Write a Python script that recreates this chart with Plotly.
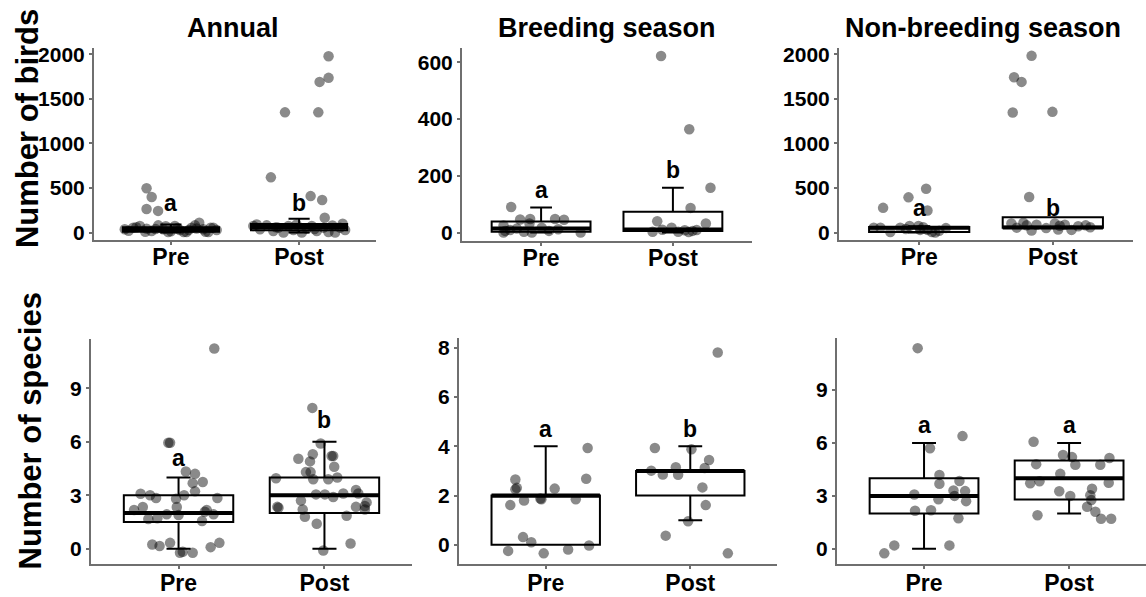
import plotly.graph_objects as go

# ---------------- DATA ----------------
categories = ["Pre", "Post"]
panel_titles = ["Annual", "Breeding season", "Non-breeding season"]
row_titles = ["Number of birds", "Number of species"]

# --- Number of birds: Annual ---
birds_annual_pre_jit = [-0.19, -0.15, -0.19, -0.10, -0.36, -0.294, -0.242, -0.19, -0.151, -0.099, -0.06,
                        -0.021, 0.031, 0.07, 0.122, 0.161, 0.188, 0.221, 0.253, 0.292, 0.331, 0.357,
                        -0.33, -0.27, -0.2, -0.12, -0.04, 0.0, 0.05, 0.1, 0.14, 0.2, 0.27, 0.31]
birds_annual_pre = [497, 398, 265, 243, 37, 55, 74, 44, 18, 81, 37,
                    7, 74, 29, 7, 55, 81, 110, 37, 7, 55, 29,
                    20, 60, 10, 40, 70, 15, 50, 5, 30, 45, 10, 55]
birds_annual_post_jit = [0.23, 0.23, 0.16, -0.11, 0.15, -0.22, 0.09, 0.18, 0.20,
                         -0.357, -0.305, -0.253, -0.201, -0.161, -0.122, -0.083, -0.044, 0.021,
                         0.06, 0.099, 0.138, 0.19, 0.229, 0.281, 0.32, 0.359,
                         -0.33, -0.18, -0.02, 0.12, 0.26, 0.34]
birds_annual_post = [1978, 1735, 1690, 1348, 1348, 619, 409, 365, 166,
                     74, 37, 81, 18, 55, 0, 74, 29, 0,
                     44, 74, 18, 55, 7, 0, 55, 29,
                     90, 60, 90, 40, 80, 100]
birds_annual_q1 = [10, 25]
birds_annual_med = [40, 62]
birds_annual_q3 = [60, 95]
birds_annual_lo = [0, 0]
birds_annual_hi = [90, 155]
birds_annual_letters = ["a", "b"]
birds_annual_letter_y = [331, 331]

# --- Number of birds: Breeding season ---
birds_breed_pre_jit = [-0.227, -0.159, -0.083, -0.088, 0.106, 0.174, -0.285, -0.273, -0.235,
                       -0.184, -0.07, 0.06, 0.13, 0.3, -0.285, 0.005, -0.13]
birds_breed_pre = [90, 46, 48, 32, 48, 45, 25, 6, 9,
                   14, 0, 6, 12, 0, 0, 17, 3]
birds_breed_post_jit = [-0.09, 0.124, 0.285, 0.134, -0.119, 0.25, -0.154, -0.01, 0.04,
                        0.09, 0.149, 0.18, -0.08, 0.12]
birds_breed_post = [622, 364, 158, 87, 40, 32, 3, 17, 3,
                    8, 6, 9, 10, 2]
birds_breed_q1 = [3, 6]
birds_breed_med = [14, 11]
birds_breed_q3 = [39, 73]
birds_breed_lo = [0, 0]
birds_breed_hi = [88, 158]
birds_breed_letters = ["a", "b"]
birds_breed_letter_y = [149, 219]

# --- Number of birds: Non-breeding season ---
birds_nonb_pre_jit = [0.052, -0.08, -0.27, 0.062, -0.29, -0.216, -0.142, -0.072, -0.005,
                      0.007, 0.062, 0.12, 0.095, -0.34, 0.2, 0.03, -0.1, 0.15]
birds_nonb_pre = [491, 395, 277, 247, 55, 7, 55, 74, 74,
                  30, 30, 0, 7, 55, 50, 60, 40, 20]
birds_nonb_post_jit = [-0.159, -0.29, -0.234, -0.3, -0.003, -0.177,
                       -0.31, -0.27, -0.22, -0.196, -0.159, -0.122, 0.015, 0.04, 0.052,
                       0.09, 0.14, 0.19, 0.246, 0.28, -0.05]
birds_nonb_post = [1982, 1741, 1690, 1347, 1354, 399,
                   103, 55, 111, 81, 22, 88, 103, 33, 77,
                   88, 30, 70, 81, 60, 50]
birds_nonb_q1 = [5, 55]
birds_nonb_med = [55, 58]
birds_nonb_q3 = [62, 172]
birds_nonb_lo = [0, 55]
birds_nonb_hi = [70, 172]
birds_nonb_letters = ["a", "b"]
birds_nonb_letter_y = [276, 276]

# --- Number of species: Annual ---
spec_annual_pre_jit = [0.245, -0.07, -0.058, 0.05, 0.113, 0.097, 0.166, 0.113, -0.26, -0.195, -0.154,
                       -0.017, 0.038, 0.266, -0.305, -0.245, -0.207, -0.145, -0.081, -0.012, 0.0,
                       0.161, 0.18, 0.24, 0.193, -0.18, -0.13, -0.058, 0.01, 0.029, 0.097, 0.22, 0.28]
spec_annual_pre = [11.23, 5.95, 5.95, 4.33, 4.2, 3.68, 3.74, 3.22, 3.09, 3.0, 2.85,
                   2.81, 3.0, 2.85, 2.17, 2.34, 1.67, 1.71, 1.93, 2.34, 1.89,
                   1.56, 2.08, 1.93, 2.17, 0.24, 0.15, 0.33, -0.22, -0.17, -0.22, 0.09, 0.33]
spec_annual_post_jit = [-0.083, -0.026, -0.08, -0.179, 0.049, 0.06, 0.067, -0.099, -0.127, -0.095, -0.332,
                        -0.077, 0.026, 0.088, 0.216, -0.058, 0.003, 0.06, 0.129, 0.232, -0.161,
                        -0.323, -0.315, 0.216, 0.277, 0.289, -0.149, 0.277, -0.134, 0.152, -0.053,
                        0.179, -0.008]
spec_annual_post = [7.9, 5.9, 5.3, 5.05, 5.2, 5.2, 4.6, 4.9, 4.3, 4.3, 3.95,
                    3.9, 3.9, 4.0, 3.3, 3.05, 3.05, 2.9, 3.1, 3.1, 2.7,
                    2.35, 2.3, 2.35, 2.4, 2.6, 2.2, 2.2, 1.8, 1.85, 1.4,
                    0.3, -0.1]
spec_annual_q1 = [1.5, 2]
spec_annual_med = [2, 3]
spec_annual_q3 = [3, 4]
spec_annual_lo = [0, 0]
spec_annual_hi = [4, 6]
spec_annual_letters = ["a", "b"]
spec_annual_letter_y = [5.1, 7.2]

# --- Number of species: Breeding season ---
spec_breed_pre_jit = [-0.26, -0.245, -0.21, -0.2, -0.21, -0.15, -0.157, -0.1, -0.037, -0.03,
                      -0.014, 0.062, 0.155, 0.208, 0.28, 0.29, 0.3]
spec_breed_pre = [-0.25, 1.61, 2.65, 2.31, 2.25, 1.8, 0.31, 0.1, 1.88, 1.85,
                  -0.35, 2.28, -0.19, 1.85, 2.68, 3.93, -0.03]
spec_breed_post_jit = [0.19, -0.245, 0.008, -0.27, -0.19, -0.1, -0.084, 0.13, 0.1, 0.084,
                       0.107, -0.015, -0.17, 0.26]
spec_breed_post = [7.81, 3.93, 3.88, 3.01, 2.85, 3.15, 2.84, 3.44, 3.12, 2.33,
                   1.61, 0.95, 0.37, -0.35]
spec_breed_q1 = [0, 2]
spec_breed_med = [2, 3]
spec_breed_q3 = [2, 3]
spec_breed_lo = [0, 1]
spec_breed_hi = [4, 4]
spec_breed_letters = ["a", "b"]
spec_breed_letter_y = [4.7, 4.7]

# --- Number of species: Non-breeding season ---
spec_nonb_pre_jit = [-0.044, 0.265, 0.041, 0.106, 0.106, 0.244, 0.203, 0.283, 0.21, -0.067,
                     0.099, 0.29, -0.062, 0.048, 0.237, -0.274, -0.205, 0.175]
spec_nonb_pre = [11.38, 6.39, 5.7, 4.19, 3.69, 3.84, 3.31, 3.27, 3.0, 3.08,
                 2.81, 2.7, 2.16, 2.18, 1.73, -0.26, 0.19, 0.19]
spec_nonb_post_jit = [-0.245, -0.227, -0.042, 0.02, 0.043, 0.215, 0.278, -0.061, -0.204, -0.268,
                      0.273, 0.158, -0.068, 0.008, 0.146, 0.153, 0.124, 0.181, 0.22, 0.29, -0.218]
spec_nonb_post = [6.07, 4.8, 5.32, 5.2, 4.77, 4.77, 5.15, 4.25, 3.83, 3.72,
                  3.74, 3.4, 3.26, 3.0, 3.04, 2.76, 2.38, 2.1, 1.7, 1.7, 1.9]
spec_nonb_q1 = [2, 2.8]
spec_nonb_med = [3, 4]
spec_nonb_q3 = [4, 5]
spec_nonb_lo = [0, 2]
spec_nonb_hi = [6, 6]
spec_nonb_letters = ["a", "a"]
spec_nonb_letter_y = [7.0, 7.0]

# y-axis ticks
birds_annual_ticks = [0, 500, 1000, 1500, 2000]
birds_breed_ticks = [0, 200, 400, 600]
birds_nonb_ticks = [0, 500, 1000, 1500, 2000]
spec_annual_ticks = [0, 3, 6, 9]
spec_breed_ticks = [0, 2, 4, 6, 8]
spec_nonb_ticks = [0, 3, 6, 9]

# ---------------- LAYOUT / STYLE ----------------
W, H = 1146, 597
FONT = "Liberation Sans"
AXIS_COLOR = "#6f6f6f"
POINT_COLOR = "rgba(0,0,0,0.46)"
BOX_W = 0.75

panels = [
    dict(pre_j=birds_annual_pre_jit, pre=birds_annual_pre, post_j=birds_annual_post_jit, post=birds_annual_post,
         q1=birds_annual_q1, med=birds_annual_med, q3=birds_annual_q3, lo=birds_annual_lo, hi=birds_annual_hi,
         letters=birds_annual_letters, ly=birds_annual_letter_y, ticks=birds_annual_ticks,
         xpx=(94, 376), ypx=(43, 238), xr=[-0.6, 1.6], yr=[-88, 2066], stand=-8),
    dict(pre_j=birds_breed_pre_jit, pre=birds_breed_pre, post_j=birds_breed_post_jit, post=birds_breed_post,
         q1=birds_breed_q1, med=birds_breed_med, q3=birds_breed_q3, lo=birds_breed_lo, hi=birds_breed_hi,
         letters=birds_breed_letters, ly=birds_breed_letter_y, ticks=birds_breed_ticks,
         xpx=(462, 752), ypx=(43, 239), xr=[-0.6, 1.6], yr=[-31, 649], stand=-8),
    dict(pre_j=birds_nonb_pre_jit, pre=birds_nonb_pre, post_j=birds_nonb_post_jit, post=birds_nonb_post,
         q1=birds_nonb_q1, med=birds_nonb_med, q3=birds_nonb_q3, lo=birds_nonb_lo, hi=birds_nonb_hi,
         letters=birds_nonb_letters, ly=birds_nonb_letter_y, ticks=birds_nonb_ticks,
         xpx=(839, 1133), ypx=(43, 238), xr=[-0.6, 1.6], yr=[-88, 2066], stand=-8),
    dict(pre_j=spec_annual_pre_jit, pre=spec_annual_pre, post_j=spec_annual_post_jit, post=spec_annual_post,
         q1=spec_annual_q1, med=spec_annual_med, q3=spec_annual_q3, lo=spec_annual_lo, hi=spec_annual_hi,
         letters=spec_annual_letters, ly=spec_annual_letter_y, ticks=spec_annual_ticks,
         xpx=(91, 412), ypx=(338, 567), xr=[-0.6, 1.6], yr=[-0.88, 11.77], stand=-6),
    dict(pre_j=spec_breed_pre_jit, pre=spec_breed_pre, post_j=spec_breed_post_jit, post=spec_breed_post,
         q1=spec_breed_q1, med=spec_breed_med, q3=spec_breed_q3, lo=spec_breed_lo, hi=spec_breed_hi,
         letters=spec_breed_letters, ly=spec_breed_letter_y, ticks=spec_breed_ticks,
         xpx=(459, 777), ypx=(337, 567), xr=[-0.6, 1.6], yr=[-0.8, 8.4], stand=-6),
    dict(pre_j=spec_nonb_pre_jit, pre=spec_nonb_pre, post_j=spec_nonb_post_jit, post=spec_nonb_post,
         q1=spec_nonb_q1, med=spec_nonb_med, q3=spec_nonb_q3, lo=spec_nonb_lo, hi=spec_nonb_hi,
         letters=spec_nonb_letters, ly=spec_nonb_letter_y, ticks=spec_nonb_ticks,
         xpx=(837, 1146), ypx=(337, 567), xr=[-0.6, 1.53], yr=[-0.89, 11.96], stand=-6),
]

fig = go.Figure()
layout = dict(
    width=W, height=H, margin=dict(l=0, r=0, t=0, b=0),
    paper_bgcolor="white", plot_bgcolor="white", showlegend=False,
    font=dict(family=FONT, color="black"),
)
annotations = []

for i, p in enumerate(panels):
    n = "" if i == 0 else str(i + 1)
    xa, ya = "x" + n, "y" + n
    pos = list(range(len(categories)))

    # boxes (from precomputed stats)
    fig.add_trace(go.Box(
        x=pos, q1=p["q1"], median=p["med"], q3=p["q3"],
        lowerfence=p["lo"], upperfence=p["hi"],
        width=BOX_W, whiskerwidth=0.22, boxpoints=False,
        fillcolor="white", line=dict(color="black", width=2),
        xaxis=xa, yaxis=ya, hoverinfo="skip",
    ))
    # thick median lines
    mx, my = [], []
    for c, m in zip(pos, p["med"]):
        mx += [c - BOX_W / 2, c + BOX_W / 2, None]
        my += [m, m, None]
    fig.add_trace(go.Scatter(x=mx, y=my, mode="lines", line=dict(color="black", width=4),
                             xaxis=xa, yaxis=ya, hoverinfo="skip"))
    # jittered points
    for c, jit, vals in ((0, p["pre_j"], p["pre"]), (1, p["post_j"], p["post"])):
        fig.add_trace(go.Scatter(
            x=[c + j for j in jit], y=vals, mode="markers",
            marker=dict(size=10.5, color=POINT_COLOR, line=dict(width=0)),
            xaxis=xa, yaxis=ya,
        ))

    xd = [p["xpx"][0] / W, min(p["xpx"][1] / W, 1.0)]
    yd = [1 - p["ypx"][1] / H, 1 - p["ypx"][0] / H]
    common = dict(showgrid=False, zeroline=False, showline=True, linecolor=AXIS_COLOR, linewidth=2,
                  ticks="outside", ticklen=3, tickcolor=AXIS_COLOR, tickwidth=1.5)
    layout["xaxis" + n] = dict(domain=xd, range=p["xr"], anchor=ya, tickvals=pos, ticktext=categories,
                               ticklabelstandoff=p["stand"],
                               tickfont=dict(family=FONT, size=23, weight="bold", color="black"), **common)
    layout["yaxis" + n] = dict(domain=yd, range=p["yr"], anchor=xa, tickvals=p["ticks"],
                               tickfont=dict(family=FONT, size=21, weight="bold", color="black"), **common)

    for c, lt, lyv in zip(pos, p["letters"], p["ly"]):
        annotations.append(dict(x=c, y=lyv, xref=xa, yref=ya, text="<b>%s</b>" % lt, showarrow=False,
                                font=dict(family=FONT, size=23, color="black"), yanchor="middle"))

# column titles
for t, cx in zip(panel_titles, [233, 607, 983]):
    annotations.append(dict(x=cx / W, y=1 - 22 / H, xref="paper", yref="paper", text="<b>%s</b>" % t,
                            showarrow=False, font=dict(family=FONT, size=27, color="black"),
                            xanchor="center", yanchor="middle"))
# row titles
for t, cy, cx in zip(row_titles, [125, 432], [27, 30]):
    annotations.append(dict(x=cx / W, y=1 - cy / H, xref="paper", yref="paper", text="<b>%s</b>" % t,
                            showarrow=False, textangle=-90, font=dict(family=FONT, size=31, color="black"),
                            xanchor="center", yanchor="middle"))

layout["annotations"] = annotations
fig.update_layout(**layout)
fig.write_html("out.html")
